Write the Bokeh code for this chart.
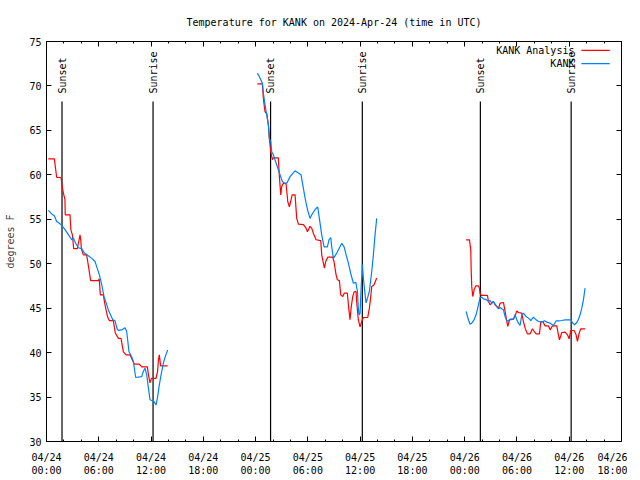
import math
from bokeh.plotting import figure
from bokeh.models import (FixedTicker, LinearAxis, Range1d, Label)
from bokeh.core.properties import value
from bokeh.embed import file_html
from bokeh.resources import INLINE

# ---------------- data (hours since 2024-04-24 00:00 UTC, degrees F) ----------------
red_d1_h = [0.21, 0.9, 1.17, 1.66, 1.9, 2.12, 2.15, 2.7, 2.8, 2.97, 3.12, 3.54, 3.7, 3.85, 3.95, 4.0,
            4.23, 4.61, 4.85, 5.07, 5.95, 6.05, 6.18, 6.52, 6.75, 7.02, 7.21, 7.67, 7.9, 8.25, 8.55,
            8.82, 9.13, 9.59, 9.75, 10.08, 10.66, 10.93, 11.58, 11.7, 11.88, 12.05, 12.26, 12.57,
            12.75, 12.85, 12.95, 13.1, 13.22, 13.91]
red_d1_t = [61.8, 61.8, 59.7, 59.7, 58.1, 57.2, 55.5, 55.5, 53.8, 53.25, 51.7, 51.7, 52.5, 53.25, 52.5, 51.7,
            51.0, 51.0, 49.5, 48.1, 48.1, 48.3, 46.5, 46.5, 45.2, 44.0, 43.6, 43.6, 42.2, 41.6, 41.6,
            40.1, 39.75, 39.75, 39.4, 38.7, 38.7, 38.4, 38.4, 37.5, 36.6, 37.1, 37.1, 37.1,
            37.9, 39.2, 39.75, 38.5, 38.5, 38.5]

blue_d1_h = [0.21, 0.6, 0.9, 1.17, 1.4, 1.66, 2.0, 2.32, 2.7, 2.89, 3.08, 3.35, 3.65, 4.04, 4.35, 4.8,
             5.2, 5.57, 5.75, 6.07, 6.35, 6.6, 6.85, 7.1, 7.35, 7.6, 7.86, 8.13, 8.3, 8.63, 9.01, 9.2,
             9.47, 9.75, 9.97, 10.24, 10.93, 11.12, 11.31, 11.5, 11.7, 11.88, 12.34, 12.57, 12.75,
             12.92, 13.15, 13.41, 13.65, 13.91]
blue_d1_t = [56.0, 55.6, 55.4, 54.75, 54.6, 54.4, 54.0, 53.55, 53.0, 52.7, 52.9, 52.3, 51.8, 51.7, 51.2, 50.9,
             50.6, 50.25, 49.7, 48.75, 47.6, 46.3, 45.6, 44.8, 44.25, 43.7, 43.6, 42.6, 42.5, 42.55, 42.8, 42.4,
             40.1, 39.6, 39.0, 37.2, 37.3, 37.9, 38.25, 37.5, 36.0, 34.7, 34.5, 34.1, 35.0,
             36.2, 37.5, 38.8, 39.6, 40.3]

red_d2_h = [24.2, 24.78, 24.89, 25.08, 25.28, 25.47, 25.58, 25.74, 25.93, 26.04, 26.61, 26.73, 26.89, 27.0,
            27.19, 27.5, 27.69, 27.88, 28.03, 28.19, 28.53, 28.72, 28.91, 29.49, 29.79, 29.95, 30.25, 30.44,
            30.64, 30.94, 31.48, 31.59, 31.9, 32.05, 32.28, 32.85, 33.0, 33.24, 33.39, 33.62, 33.77, 34.0,
            34.19, 34.53, 34.69, 34.84, 34.96, 35.15, 35.3, 35.53, 35.6, 35.79, 35.99, 36.18, 36.37, 36.87,
            37.06, 37.22, 37.33, 37.59, 37.9]
red_d2_t = [70.24, 70.24, 68.6, 67.1, 66.9, 65.6, 64.1, 62.6, 61.7, 61.9, 61.9, 59.8, 57.75, 58.7,
            59.06, 59.0, 57.0, 56.4, 57.0, 57.75, 57.75, 55.1, 54.45, 54.4, 54.0, 53.6, 54.2, 54.0,
            53.4, 52.7, 52.6, 51.0, 49.5, 50.25, 50.74, 50.74, 50.25, 48.75, 48.2, 48.1, 46.5, 46.3,
            46.7, 46.7, 45.0, 43.7, 45.0, 46.3, 46.8, 46.9, 45.75, 43.7, 42.9, 43.5, 43.95, 43.95,
            45.0, 46.3, 47.44, 47.6, 48.4]

blue_d2_h = [24.2, 24.51, 24.78, 24.89, 25.08, 25.28, 25.47, 25.58, 25.74, 25.85, 26.04, 26.43, 26.81, 27.07,
             27.3, 27.58, 27.96, 28.53, 28.91, 29.22, 29.41, 29.68, 29.95, 30.25, 30.44, 30.83, 31.13, 31.32,
             31.59, 31.86, 32.24, 32.43, 32.63, 32.74, 32.93, 33.32, 33.89, 34.16, 34.39, 34.65, 34.92,
             35.23, 35.5, 35.69, 35.79, 35.88, 35.99, 36.11, 36.26, 36.37, 36.57, 36.68, 36.84, 37.06,
             37.33, 37.52, 37.71, 37.9]
blue_d2_t = [71.44, 70.9, 70.3, 69.2, 67.9, 66.75, 65.6, 64.1, 63.75, 62.6, 62.25, 61.1, 60.0, 59.25,
             59.06, 59.06, 59.8, 60.45, 60.2, 60.0, 58.9, 57.4, 56.1, 55.1, 55.5, 56.1, 56.4, 55.1,
             53.25, 51.9, 51.9, 52.7, 52.95, 51.9, 50.6, 51.2, 52.3, 51.9, 51.0, 50.06, 48.9,
             47.8, 47.9, 46.9, 45.0, 44.25, 44.4, 47.25, 49.9, 48.4, 46.5, 45.6, 46.1, 46.9,
             49.1, 51.0, 53.25, 55.1]

red_d3_h = [48.16, 48.55, 48.7, 48.74, 48.81, 48.93, 49.08, 49.27, 49.58, 49.69, 49.77, 49.89, 50.61, 50.73,
            50.92, 51.11, 51.3, 51.49, 51.68, 51.88, 52.07, 52.45, 52.64, 52.83, 52.95, 53.14, 53.6, 53.83,
            53.98, 54.17, 54.55, 54.74, 54.94, 55.2, 55.51, 55.78, 55.97, 56.2, 56.58, 56.74, 56.97, 57.23,
            57.61, 57.81, 58.07, 58.27, 58.57, 58.76, 58.88, 59.15, 59.53, 59.8, 59.99, 60.18, 60.56,
            60.79, 60.94, 61.14, 61.33, 61.82]
red_d3_t = [52.69, 52.69, 51.56, 49.5, 47.44, 46.31, 47.06, 47.51, 47.51, 47.25, 46.69, 46.43, 46.43, 45.75,
            45.38, 45.56, 45.75, 45.38, 45.19, 45.0, 45.56, 45.64, 44.63, 43.5, 42.94, 43.69, 43.76, 44.25,
            44.7, 44.51, 44.44, 43.5, 42.75, 42.11, 42.11, 42.68, 42.38, 42.11, 42.11, 43.5, 43.5, 43.01,
            43.01, 42.56, 43.01, 43.01, 43.01, 42.0, 41.44, 42.26, 42.3, 42.0, 41.55, 42.49, 42.49,
            42.0, 41.25, 42.19, 42.68, 42.68]

blue_d3_h = [48.16, 48.43, 48.62, 48.81, 49.08, 49.31, 49.58, 49.77, 49.97, 50.15, 50.53, 50.73, 50.92, 51.11,
             51.3, 51.49, 51.68, 51.88, 52.07, 52.26, 52.45, 52.64, 52.83, 53.02, 53.21, 53.6, 53.79, 53.98,
             54.17, 54.36, 54.55, 54.74, 55.05, 55.32, 55.59, 55.89, 56.2, 56.47, 56.85, 57.16, 57.42,
             57.81, 58.19, 58.5, 58.76, 59.15, 59.53, 59.91, 60.18, 60.41, 60.6, 60.87, 61.06, 61.25,
             61.44, 61.63, 61.82]
blue_d3_t = [44.63, 43.69, 43.2, 43.31, 43.69, 44.25, 45.38, 46.2, 46.24, 46.05, 45.94, 45.75, 45.86, 45.56,
             45.75, 45.45, 45.19, 44.93, 45.08, 44.93, 44.81, 44.06, 43.58, 43.58, 43.76, 43.76, 44.25, 43.69,
             43.31, 43.05, 44.25, 44.44, 44.06, 43.88, 43.61, 43.99, 43.69, 43.5, 43.43, 43.58, 43.43,
             43.31, 43.05, 43.58, 43.58, 43.61, 43.69, 43.69, 43.69, 43.31, 43.13, 43.39, 43.76, 44.25,
             45.0, 45.94, 47.25]

sunset_h = [1.78, 25.72, 49.8]
sunrise_h = [12.23, 36.25, 60.22]

x_ticks = [0, 6, 12, 18, 24, 30, 36, 42, 48, 54, 60, 66]
x_tick_labels = ["04/24\n00:00", "04/24\n06:00", "04/24\n12:00", "04/24\n18:00",
                 "04/25\n00:00", "04/25\n06:00", "04/25\n12:00", "04/25\n18:00",
                 "04/26\n00:00", "04/26\n06:00", "04/26\n12:00", "04/26\n18:00"]
y_ticks = [30, 35, 40, 45, 50, 55, 60, 65, 70, 75]

series_names = ["KANK Analysis", "KANK"]
title_text = "Temperature for KANK on 2024-Apr-24 (time in UTC)"

# ---------------- styling ----------------
RED = "#ff0000"
BLUE = "#0080ff"
FONT = "DejaVu Sans Mono"
FS = "10px"
X0, X1 = 0, 66
Y0, Y1 = 30, 75

p = figure(frame_width=575, frame_height=400, x_range=Range1d(X0, X1), y_range=Range1d(Y0, Y1),
           output_backend="svg", toolbar_location=None,
           min_border_left=46, min_border_right=6, min_border_top=40, min_border_bottom=31,
           title=title_text)
p.background_fill_color = "white"
p.border_fill_color = "white"
p.outline_line_color = "black"
p.outline_line_width = 1
p.xgrid.visible = False
p.ygrid.visible = False

p.title.align = "center"
p.title.text_font = FONT
p.title.text_font_size = FS
p.title.text_font_style = "normal"
p.title.text_color = "black"
p.title.standoff = 28

minor_x = [h for h in range(0, 67, 2) if h % 6 != 0]

def style_axis(ax):
    ax.axis_line_color = "black"
    ax.major_tick_in = 5
    ax.major_tick_out = 0
    ax.minor_tick_in = 2
    ax.minor_tick_out = 0
    ax.major_tick_line_color = "black"
    ax.minor_tick_line_color = "black"
    ax.major_label_text_font = FONT
    ax.major_label_text_font_size = FS
    ax.major_label_text_color = "black"
    ax.axis_label_text_font = FONT
    ax.axis_label_text_font_size = FS
    ax.axis_label_text_font_style = "normal"

xa = p.xaxis[0]
xa.ticker = FixedTicker(ticks=x_ticks, minor_ticks=minor_x)
xa.major_label_overrides = {t: lab for t, lab in zip(x_ticks, x_tick_labels)}
xa.major_label_standoff = 10
style_axis(xa)

ya = p.yaxis[0]
ya.ticker = FixedTicker(ticks=y_ticks, minor_ticks=[])
ya.axis_label = "degrees F"
ya.major_label_standoff = 5
ya.axis_label_standoff = 10
style_axis(ya)

# mirrored tick marks (no labels) on top and right
top = LinearAxis(ticker=FixedTicker(ticks=x_ticks, minor_ticks=minor_x))
style_axis(top)
top.major_label_overrides = {t: "" for t in x_ticks}
top.major_label_standoff = 0
p.add_layout(top, "above")
right = LinearAxis(ticker=FixedTicker(ticks=y_ticks, minor_ticks=[]))
style_axis(right)
right.major_label_overrides = {t: "" for t in y_ticks}
right.major_label_standoff = 0
p.add_layout(right, "right")

# sunset / sunrise markers
line_top = Y0 + 0.85 * (Y1 - Y0)
label_y = Y0 + 0.87 * (Y1 - Y0)
sun_x = sunset_h + sunrise_h
sun_txt = ["Sunset"] * len(sunset_h) + ["Sunrise"] * len(sunrise_h)
p.segment(x0=sun_x, y0=[Y0] * len(sun_x), x1=sun_x, y1=[line_top] * len(sun_x),
          line_color="black", line_width=1.2)
p.text(x=sun_x, y=[label_y] * len(sun_x), text=sun_txt, angle=math.pi / 2,
       text_align="left", text_baseline="middle", text_font=value(FONT),
       text_font_size=FS, text_color="black")

# data lines
for hs, ts in [(red_d1_h, red_d1_t), (red_d2_h, red_d2_t), (red_d3_h, red_d3_t)]:
    p.line(hs, ts, line_color=RED, line_width=1.2)
for hs, ts in [(blue_d1_h, blue_d1_t), (blue_d2_h, blue_d2_t), (blue_d3_h, blue_d3_t)]:
    p.line(hs, ts, line_color=BLUE, line_width=1.2)

# key (top right, gnuplot style: text left of sample)
key_text_x = X1 - 5.4
key_line_x0 = X1 - 4.6
key_line_x1 = X1 - 1.35
key_rows = [Y1 - 1.0, Y1 - 2.5]
for name, col, yy in zip(series_names, [RED, BLUE], key_rows):
    p.add_layout(Label(x=key_text_x, y=yy, text=name, text_align="right", text_baseline="middle",
                       text_font=FONT, text_font_size=FS, text_color="black"))
    p.segment(x0=[key_line_x0], y0=[yy], x1=[key_line_x1], y1=[yy], line_color=col, line_width=1.2)

open("out.html", "w").write(file_html(p, INLINE))
